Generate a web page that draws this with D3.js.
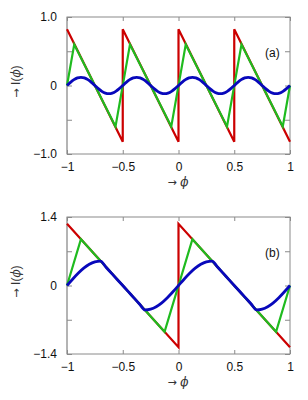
<!DOCTYPE html>
<html><head><meta charset="utf-8">
<script src="https://cdn.jsdelivr.net/npm/d3@7"></script>
<style>body{margin:0;background:#fff}svg{display:block}</style>
</head><body><svg id="c" width="308" height="400"></svg>
<script>
// ---- data ----
const xTicks = [-1, -0.5, 0, 0.5, 1];
const xTickLabels = ["\u22121", "\u22120.5", "0", "0.5", "1"];
// panel (a)
const yTicksA = [-1, -0.5, 0, 0.5, 1];
const yTickLabelsA = ["\u22121.0", "", "0", "", "1.0"];
const redAx = [-1, -0.5, -0.5, 0, 0, 0.5, 0.5, 1];
const redAy = [0.82, -0.82, 0.82, -0.82, 0.82, -0.82, 0.82, -0.82];
const greenAx = [-1, -0.935, -0.565, -0.435, -0.065, 0.065, 0.435, 0.565, 0.935, 1];
const greenAy = [0, 0.6, -0.6, 0.6, -0.6, 0.6, -0.6, 0.6, -0.6, 0];
const blueAy = [
  0, 0.046, 0.085, 0.111, 0.12, 0.111, 0.085, 0.046, 0, -0.046, -0.085, -0.111, -0.12, -0.111, -0.085, -0.046,
  0, 0.046, 0.085, 0.111, 0.12, 0.111, 0.085, 0.046, 0, -0.046, -0.085, -0.111, -0.12, -0.111, -0.085, -0.046,
  0, 0.046, 0.085, 0.111, 0.12, 0.111, 0.085, 0.046, 0, -0.046, -0.085, -0.111, -0.12, -0.111, -0.085, -0.046,
  0, 0.046, 0.085, 0.111, 0.12, 0.111, 0.085, 0.046, 0, -0.046, -0.085, -0.111, -0.12, -0.111, -0.085, -0.046,
  0];
// panel (b)
const yTicksB = [-1.4, -0.7, 0, 0.7, 1.4];
const yTickLabelsB = ["\u22121.4", "", "0", "", "1.4"];
const redBx = [-1, 0, 0, 1];
const redBy = [1.26, -1.26, 1.26, -1.26];
const greenBx = [-1, -0.875, -0.125, 0.125, 0.875, 1];
const greenBy = [0, 0.945, -0.945, 0.945, -0.945, 0];
const blueBy = [
  0, 0.129, 0.25, 0.354, 0.433, 0.483, 0.5, 0.374, 0.248, 0.122,
  0, -0.126, -0.252, -0.378, -0.5, -0.483, -0.433, -0.354, -0.25, -0.129,
  0, 0.129, 0.25, 0.354, 0.433, 0.483, 0.5, 0.378, 0.252, 0.126,
  0, -0.122, -0.248, -0.374, -0.5, -0.483, -0.433, -0.354, -0.25, -0.129,
  0];

const svg = d3.select("#c");
const L = 67, R = 290;
const x = d3.scaleLinear().domain([-1, 1]).range([L, R]);
const FONT = "'Liberation Sans', Arial, Helvetica, sans-serif";
const ARROW = "'DejaVu Sans', sans-serif";

function panel(top, bottom, yMax, yTicks, yLabels, red, green, blue, blueXs, tag, curveBlue) {
  const y = d3.scaleLinear().domain([-yMax, yMax]).range([bottom, top]);
  const g = svg.append("g");
  // frame
  g.append("rect").attr("x", L).attr("y", top).attr("width", R - L).attr("height", bottom - top)
    .attr("fill", "none").attr("stroke", "#8a8a8a").attr("stroke-width", 1);
  g.append("line").attr("x1", L).attr("x2", L).attr("y1", top).attr("y2", bottom)
    .attr("stroke", "#b4b4b4").attr("stroke-width", 2);

  const styleAxis = sel => {
    sel.select(".domain").remove();
    sel.selectAll(".tick line").attr("stroke", "#8a8a8a");
    sel.selectAll("text").attr("font-family", FONT).attr("font-size", 12).attr("fill", "#111");
  };
  g.append("g").attr("transform", `translate(0,${bottom})`)
    .call(d3.axisBottom(x).tickValues(xTicks).tickSizeInner(-4).tickSizeOuter(0).tickPadding(8)
      .tickFormat((d, i) => xTickLabels[i])).call(styleAxis);
  g.append("g").attr("transform", `translate(0,${top})`)
    .call(d3.axisTop(x).tickValues(xTicks).tickSizeInner(-4).tickSizeOuter(0).tickFormat(""))
    .call(styleAxis);
  g.append("g").attr("transform", `translate(${L},0)`)
    .call(d3.axisLeft(y).tickValues(yTicks).tickSizeInner(-5).tickSizeOuter(0).tickPadding(10)
      .tickFormat((d, i) => yLabels[i])).call(styleAxis);
  g.append("g").attr("transform", `translate(${R},0)`)
    .call(d3.axisRight(y).tickValues(yTicks).tickSizeInner(-5).tickSizeOuter(0).tickFormat(""))
    .call(styleAxis);

  const line = d3.line().x(d => x(d[0])).y(d => y(d[1]));
  g.append("path").datum(red[0].map((v, i) => [v, red[1][i]]))
    .attr("d", line).attr("fill", "none").attr("stroke", "#cc0000").attr("stroke-width", 2.2);
  g.append("path").datum(green[0].map((v, i) => [v, green[1][i]]))
    .attr("d", line).attr("fill", "none").attr("stroke", "#1fbb1f").attr("stroke-width", 2.2);
  const bl = d3.line().x(d => x(d[0])).y(d => y(d[1])).curve(curveBlue);
  g.append("path").datum(blue.map((v, i) => [blueXs[i], v]))
    .attr("d", bl).attr("fill", "none").attr("stroke", "#0808bb").attr("stroke-width", 2.8)
    .attr("stroke-linejoin", "round");

  g.append("text").attr("x", 265).attr("y", top + 40).attr("font-family", FONT)
    .attr("font-size", 12).attr("fill", "#111").text(tag);

  // axis labels
  const xl = g.append("text").attr("x", 178).attr("y", bottom + 32).attr("text-anchor", "middle")
    .attr("font-family", FONT).attr("font-size", 12).attr("fill", "#333");
  xl.append("tspan").attr("font-family", ARROW).attr("font-size", 11).text("\u2192 ");
  xl.append("tspan").attr("font-family", "'DejaVu Serif', serif").attr("font-style", "italic").text("\u03d5");
  const cy = (top + bottom) / 2 - 4;
  const yl = g.append("text").attr("transform", `translate(20,${cy}) rotate(-90)`).attr("text-anchor", "middle")
    .attr("font-family", FONT).attr("font-size", 12).attr("fill", "#333");
  yl.append("tspan").attr("font-family", ARROW).attr("font-size", 11).text("\u2192 ");
  yl.append("tspan").text("I(");
  yl.append("tspan").attr("font-family", "'DejaVu Serif', serif").attr("font-style", "italic").text("\u03d5");
  yl.append("tspan").text(")");
}

const xsA = blueAy.map((_, i) => -1 + i / 32);
const xsB = blueBy.map((_, i) => -1 + i * 0.05);
panel(17, 154, 1.0, yTicksA, yTickLabelsA, [redAx, redAy], [greenAx, greenAy], blueAy, xsA, "(a)", d3.curveMonotoneX);
panel(217, 354, 1.4, yTicksB, yTickLabelsB, [redBx, redBy], [greenBx, greenBy], blueBy, xsB, "(b)", d3.curveMonotoneX);
</script></body></html>
